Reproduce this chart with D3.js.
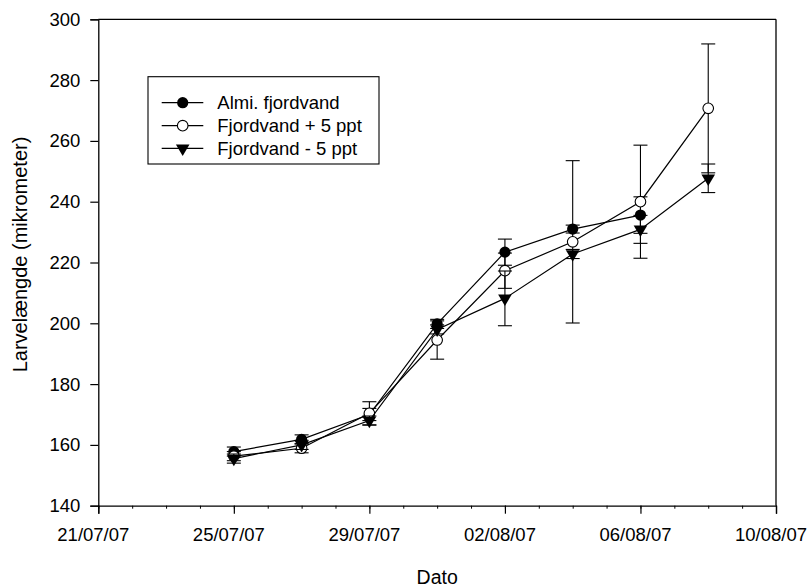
<!DOCTYPE html>
<html>
<head>
<meta charset="utf-8">
<script src="https://cdn.jsdelivr.net/npm/d3@7"></script>
<style>
  html, body { margin: 0; padding: 0; background: #fff; }
  svg { display: block; }
  text { font-family: "Liberation Sans", Arial, sans-serif; fill: #000; }
</style>
</head>
<body>
<svg id="chart" width="811" height="587"></svg>
<script>
// ---- data ----
const dates = ["25/07/07", "27/07/07", "29/07/07", "31/07/07", "02/08/07", "04/08/07", "06/08/07", "08/08/07"];
const seriesNames = ["Almi. fjordvand", "Fjordvand + 5 ppt", "Fjordvand - 5 ppt"];
const almiValues  = [157.8, 161.8, 170.0, 199.8, 223.4, 231.0, 235.6, null];
const almiErrors  = [1.5, 1.5, 2.0, 1.5, 4.3, 1.3, 6.0, null];
const plusValues  = [156.3, 158.9, 170.4, 194.5, 217.3, 226.8, 240.0, 270.7];
const plusErrors  = [1.5, 1.5, 3.8, 6.3, 5.8, 26.7, 18.6, 21.2];
const minusValues = [155.5, 160.0, 168.0, 198.0, 208.2, 222.8, 230.9, 247.7];
const minusErrors = [1.5, 1.5, 1.5, 1.5, 9.0, 1.5, 4.6, 4.7];
const xTickLabels = ["21/07/07", "25/07/07", "29/07/07", "02/08/07", "06/08/07", "10/08/07"];
const yTicks = [140, 160, 180, 200, 220, 240, 260, 280, 300];
const yTitle = "Larvelængde (mikrometer)";
const xTitle = "Dato";

const parse = d3.timeParse("%d/%m/%y");
const svg = d3.select("#chart");

const pLeft = 98.3, pRight = 776, pTop = 19.3, pBottom = 505.7;
const x = d3.scaleTime().domain([parse("21/07/07"), parse("10/08/07")]).range([pLeft, pRight]);
const y = d3.scaleLinear().domain([140, 300]).range([pBottom, pTop]);

const FS = 18.5;

// frame top/right
svg.append("line").attr("x1", pLeft).attr("x2", pRight).attr("y1", pTop).attr("y2", pTop)
  .attr("stroke", "#000").attr("stroke-width", 1.3);
svg.append("line").attr("x1", pRight).attr("x2", pRight).attr("y1", pTop).attr("y2", pBottom)
  .attr("stroke", "#000").attr("stroke-width", 1.3);

// y axis
const yAxis = d3.axisLeft(y).tickValues(yTicks).tickSize(8).tickPadding(10).tickFormat(d3.format("d"));
const gy = svg.append("g").attr("transform", `translate(${pLeft},0)`).call(yAxis);
gy.select(".domain").attr("stroke", "#000").attr("stroke-width", 1.3);
gy.selectAll(".tick line").attr("stroke", "#000").attr("stroke-width", 1.2);
gy.selectAll(".tick text").attr("font-size", FS).attr("font-family", "Liberation Sans, Arial, sans-serif");

// x minor ticks (daily)
const minor = d3.axisBottom(x).ticks(d3.timeDay.every(1)).tickSize(3).tickFormat("");
const gxm = svg.append("g").attr("transform", `translate(0,${pBottom})`).call(minor);
gxm.select(".domain").remove();
gxm.selectAll(".tick line").attr("stroke", "#000").attr("stroke-width", 1);

// x axis major
const xAxis = d3.axisBottom(x).tickValues(xTickLabels.map(parse)).tickSize(8).tickPadding(14)
  .tickFormat(d3.timeFormat("%d/%m/%y"));
const gx = svg.append("g").attr("transform", `translate(0,${pBottom})`).call(xAxis);
gx.select(".domain").attr("stroke", "#000").attr("stroke-width", 1.3);
gx.selectAll(".tick line").attr("stroke", "#000").attr("stroke-width", 1.2);
gx.selectAll(".tick text").attr("font-size", FS).attr("dx", -5.5)
  .attr("font-family", "Liberation Sans, Arial, sans-serif");

// titles
svg.append("text").attr("transform", `translate(27,${(pTop + pBottom) / 2 - 8}) rotate(-90)`)
  .attr("text-anchor", "middle").attr("font-size", 20).text(yTitle);
svg.append("text").attr("x", (pLeft + pRight) / 2).attr("y", 584)
  .attr("text-anchor", "middle").attr("font-size", 19.5).text(xTitle);

// series
const series = [
  { name: seriesNames[0], vals: almiValues, errs: almiErrors, sym: "filled" },
  { name: seriesNames[1], vals: plusValues, errs: plusErrors, sym: "open" },
  { name: seriesNames[2], vals: minusValues, errs: minusErrors, sym: "tri" }
];

function drawSymbol(g, sym, cx, cy) {
  if (sym === "filled") {
    g.append("circle").attr("cx", cx).attr("cy", cy).attr("r", 5.6).attr("fill", "#000");
  } else if (sym === "open") {
    g.append("circle").attr("cx", cx).attr("cy", cy).attr("r", 5.3)
      .attr("fill", "#fff").attr("stroke", "#000").attr("stroke-width", 1.1);
  } else {
    const w = 6.8, h = 11.5;
    g.append("path").attr("d", `M${cx - w},${cy - h / 3} L${cx + w},${cy - h / 3} L${cx},${cy + 2 * h / 3} Z`)
      .attr("fill", "#000");
  }
}

const plot = svg.append("g");
series.forEach(s => {
  const pts = dates.map((d, i) => ({ d: parse(d), v: s.vals[i], e: s.errs[i] })).filter(p => p.v != null);
  const line = d3.line().x(p => x(p.d)).y(p => y(p.v));
  const g = plot.append("g");
  g.append("path").datum(pts).attr("d", line).attr("fill", "none")
    .attr("stroke", "#000").attr("stroke-width", 1.2);
  pts.forEach(p => {
    const cx = x(p.d), y1 = y(p.v + p.e), y2 = y(p.v - p.e), cw = 7;
    g.append("line").attr("x1", cx).attr("x2", cx).attr("y1", y1).attr("y2", y2)
      .attr("stroke", "#000").attr("stroke-width", 1.1);
    g.append("line").attr("x1", cx - cw).attr("x2", cx + cw).attr("y1", y1).attr("y2", y1)
      .attr("stroke", "#000").attr("stroke-width", 1.1);
    g.append("line").attr("x1", cx - cw).attr("x2", cx + cw).attr("y1", y2).attr("y2", y2)
      .attr("stroke", "#000").attr("stroke-width", 1.1);
  });
  pts.forEach(p => drawSymbol(g, s.sym, x(p.d), y(p.v)));
});

// legend
const lg = svg.append("g");
lg.append("rect").attr("x", 148).attr("y", 76.7).attr("width", 231).attr("height", 87.3)
  .attr("fill", "#fff").attr("stroke", "#000").attr("stroke-width", 1.1);
const rowY = [102.7, 125.7, 148.3];
series.forEach((s, i) => {
  const ry = rowY[i];
  lg.append("line").attr("x1", 161.7).attr("x2", 203.3).attr("y1", ry).attr("y2", ry)
    .attr("stroke", "#000").attr("stroke-width", 1.2);
  drawSymbol(lg, s.sym, 182.7, ry);
  lg.append("text").attr("x", 217.3).attr("y", ry).attr("dy", "0.35em")
    .attr("font-size", FS).text(s.name);
});
</script>
</body>
</html>
